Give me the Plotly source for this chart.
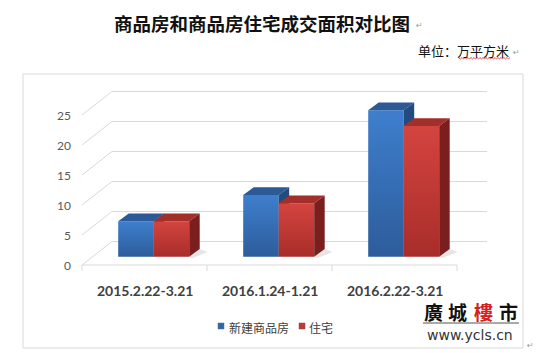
import plotly.graph_objects as go

# ---------------- data ----------------
categories = ["2015.2.22-3.21", "2016.1.24-1.21", "2016.2.22-3.21"]
series_names = ["新建商品房", "住宅"]
new_commercial = [5.9, 10.3, 24.4]
residential = [5.9, 8.9, 21.8]
y_ticks = [0, 5, 10, 15, 20, 25]
title_text = "商品房和商品房住宅成交面积对比图"
unit_prefix = "单位："
unit_text = "万平方米"
logo_chars = ["廣", "城", "樓", "市"]
logo_url = "www.ycls.cn"

series_values = [new_commercial, residential]

# ---------------- geometry (styling constants) ----------------
W, H = 541, 353
PX_X = 125.0   # pixels per category unit
PX_Y = 6.0     # pixels per value unit
X0_PX = 144.5  # pixel of first category centre (front plane)
Y0_PX = 265.0  # pixel of value 0 (front plane)

x_range = [(0 - X0_PX) / PX_X, (W - X0_PX) / PX_X]
y_range = [(Y0_PX - H) / PX_Y, Y0_PX / PX_Y]


def dx(p):
    return p / PX_X


def dy(p):
    return p / PX_Y


def pxp(p):
    return p / W


def pyp(p):
    return 1 - p / H


WALL_DX, WALL_DY = dx(30), dy(23.5)
BAR_DX, BAR_DY = dx(9.2), dy(8.3)
BAR_W = dx(35.5)
DEP_DX, DEP_DY = dx(10.5), dy(7.7)
GRID = "#D9D9D9"

styles = [
    dict(front=("#2D5C9B", "#3E7FCD"), top="#2B5A97", side="#234B80", legend="#2F66B0"),
    dict(front=("#A82D2A", "#D4443F"), top="#A32F2B", side="#7A1F1E", legend="#C0393A"),
]

fig = go.Figure()

# ---------------- walls / gridlines ----------------
n = len(categories)
left, right = -0.5, n - 0.5
gx, gy = [], []
for t in y_ticks:
    gx += [left + WALL_DX, right + WALL_DX, None]
    gy += [t + WALL_DY, t + WALL_DY, None]
    gx += [left, left + WALL_DX, None]
    gy += [t, t + WALL_DY, None]
gx += [left, right, None]
gy += [0, 0, None]
for k in range(n + 1):
    gx += [left + k, left + k, None]
    gy += [0, -dy(6), None]
fig.add_trace(go.Scatter(x=gx, y=gy, mode="lines", line=dict(color=GRID, width=1),
                         hoverinfo="skip", showlegend=False))


def poly(xs, ys, **kw):
    fig.add_trace(go.Scatter(x=xs + [xs[0]], y=ys + [ys[0]], mode="lines", fill="toself",
                             line=dict(width=0), hoverinfo="skip", showlegend=False, **kw))


# ---------------- 3D bars ----------------
ns = len(series_values)
for i in range(n):
    c = i + BAR_DX
    y0 = BAR_DY
    xr_last = c + (ns / 2) * BAR_W
    poly([xr_last, xr_last + DEP_DX, xr_last + DEP_DX + dx(8), xr_last + dx(3)],
         [y0, y0 + DEP_DY, y0 + DEP_DY - dy(3), y0 - dy(1.5)],
         fillcolor="rgba(0,0,0,0.10)")
    for s in range(ns):
        v = series_values[s][i]
        st = styles[s]
        xl = c + (s - ns / 2) * BAR_W
        xr = xl + BAR_W
        y1 = y0 + v
        poly([xl, xr, xr, xl], [y0, y0, y1, y1], fillcolor=st["front"][1],
             fillgradient=dict(type="vertical",
                               colorscale=[[0, st["front"][0]], [1, st["front"][1]]]))
        poly([xl, xr, xr + DEP_DX, xl + DEP_DX], [y1, y1, y1 + DEP_DY, y1 + DEP_DY],
             fillcolor=st["top"])
        poly([xr, xr + DEP_DX, xr + DEP_DX, xr], [y0, y0 + DEP_DY, y1 + DEP_DY, y1],
             fillcolor=st["side"])

annotations = []
for t in y_ticks:
    annotations.append(dict(x=left, y=t, xref="x", yref="y", text=str(t), showarrow=False,
                            xanchor="right", yanchor="middle", xshift=-9,
                            font=dict(family="Lato", size=12, color="#595959")))
for i, cat in enumerate(categories):
    annotations.append(dict(x=i, y=0, xref="x", yref="y", text="<b>" + cat + "</b>",
                            showarrow=False, xanchor="center", yanchor="middle", yshift=-25,
                            font=dict(family="Lato", size=14, color="#404040")))

annotations.append(dict(x=pxp(262), y=pyp(23), xref="paper", yref="paper",
                        text="<b>" + title_text + "</b>", showarrow=False,
                        xanchor="center", yanchor="middle",
                        font=dict(family="Noto Sans CJK SC", size=18.5, color="#111111")))
annotations.append(dict(x=pxp(414), y=pyp(26), xref="paper", yref="paper", text="↵",
                        showarrow=False, xanchor="left", yanchor="middle",
                        font=dict(family="DejaVu Sans", size=8, color="#9A9A9A")))
annotations.append(dict(x=pxp(511), y=pyp(50), xref="paper", yref="paper",
                        text=unit_prefix + unit_text, showarrow=False,
                        xanchor="right", yanchor="middle",
                        font=dict(family="Noto Sans CJK SC", size=13, color="#111111")))
annotations.append(dict(x=pxp(511), y=pyp(53), xref="paper", yref="paper", text="↵",
                        showarrow=False, xanchor="left", yanchor="middle",
                        font=dict(family="DejaVu Sans", size=8, color="#9A9A9A")))

legend_items = [(218, 227, series_names[0]), (299, 307, series_names[1])]
legend_edges = ["#5A6E8C", "#8C4A4A"]
shapes = []
for (sq_x, tx, name), st, edge in zip(legend_items, styles, legend_edges):
    shapes.append(dict(type="rect", xref="paper", yref="paper",
                       x0=pxp(sq_x), x1=pxp(sq_x + 6), y0=pyp(329), y1=pyp(323),
                       fillcolor=st["legend"], line=dict(color=edge, width=0.5)))
    annotations.append(dict(x=pxp(tx), y=pyp(327), xref="paper", yref="paper", text=name,
                            showarrow=False, xanchor="left", yanchor="middle",
                            font=dict(family="Noto Sans CJK SC", size=12, color="#404040")))

shapes.append(dict(type="rect", xref="paper", yref="paper", x0=pxp(23), x1=pxp(523),
                   y0=pyp(348), y1=pyp(74), line=dict(color=GRID, width=1)))

wx0, wx1, wy = 459, 510, 58
path = "M %.3f %.3f" % (pxp(wx0), pyp(wy))
k = 0
x = wx0
while x < wx1:
    x += 1.5
    yy = wy + (1 if k % 2 == 0 else -0.5)
    path += " L %.4f %.4f" % (pxp(x), pyp(yy))
    k += 1
shapes.append(dict(type="path", xref="paper", yref="paper", path=path,
                   line=dict(color="#D02020", width=0.8)))

logo_colors = ["#111111", "#111111", "#D42020", "#111111"]
logo_x = [433, 457, 483, 508]
for ch, col, lx in zip(logo_chars, logo_colors, logo_x):
    annotations.append(dict(x=pxp(lx), y=pyp(311), xref="paper", yref="paper",
                            text="<b>" + ch + "</b>", showarrow=False,
                            xanchor="center", yanchor="middle",
                            font=dict(family="Noto Sans CJK TC", size=19, color=col)))
shapes.append(dict(type="line", xref="paper", yref="paper", x0=pxp(423), x1=pxp(519),
                   y0=pyp(323), y1=pyp(323), line=dict(color="#555555", width=1)))
annotations.append(dict(x=pxp(470), y=pyp(335), xref="paper", yref="paper", text=logo_url,
                        showarrow=False, xanchor="center", yanchor="middle",
                        font=dict(family="DejaVu Sans", size=14, color="#333333")))
annotations.append(dict(x=pxp(525), y=pyp(345), xref="paper", yref="paper", text="↵",
                        showarrow=False, xanchor="left", yanchor="middle",
                        font=dict(family="DejaVu Sans", size=8, color="#9A9A9A")))

fig.update_layout(
    width=W, height=H,
    margin=dict(l=0, r=0, t=0, b=0),
    paper_bgcolor="white", plot_bgcolor="white",
    xaxis=dict(range=x_range, domain=[0, 1], visible=False, fixedrange=True),
    yaxis=dict(range=y_range, domain=[0, 1], visible=False, fixedrange=True),
    annotations=annotations,
    shapes=shapes,
    showlegend=False,
)

fig.write_html("out.html")
